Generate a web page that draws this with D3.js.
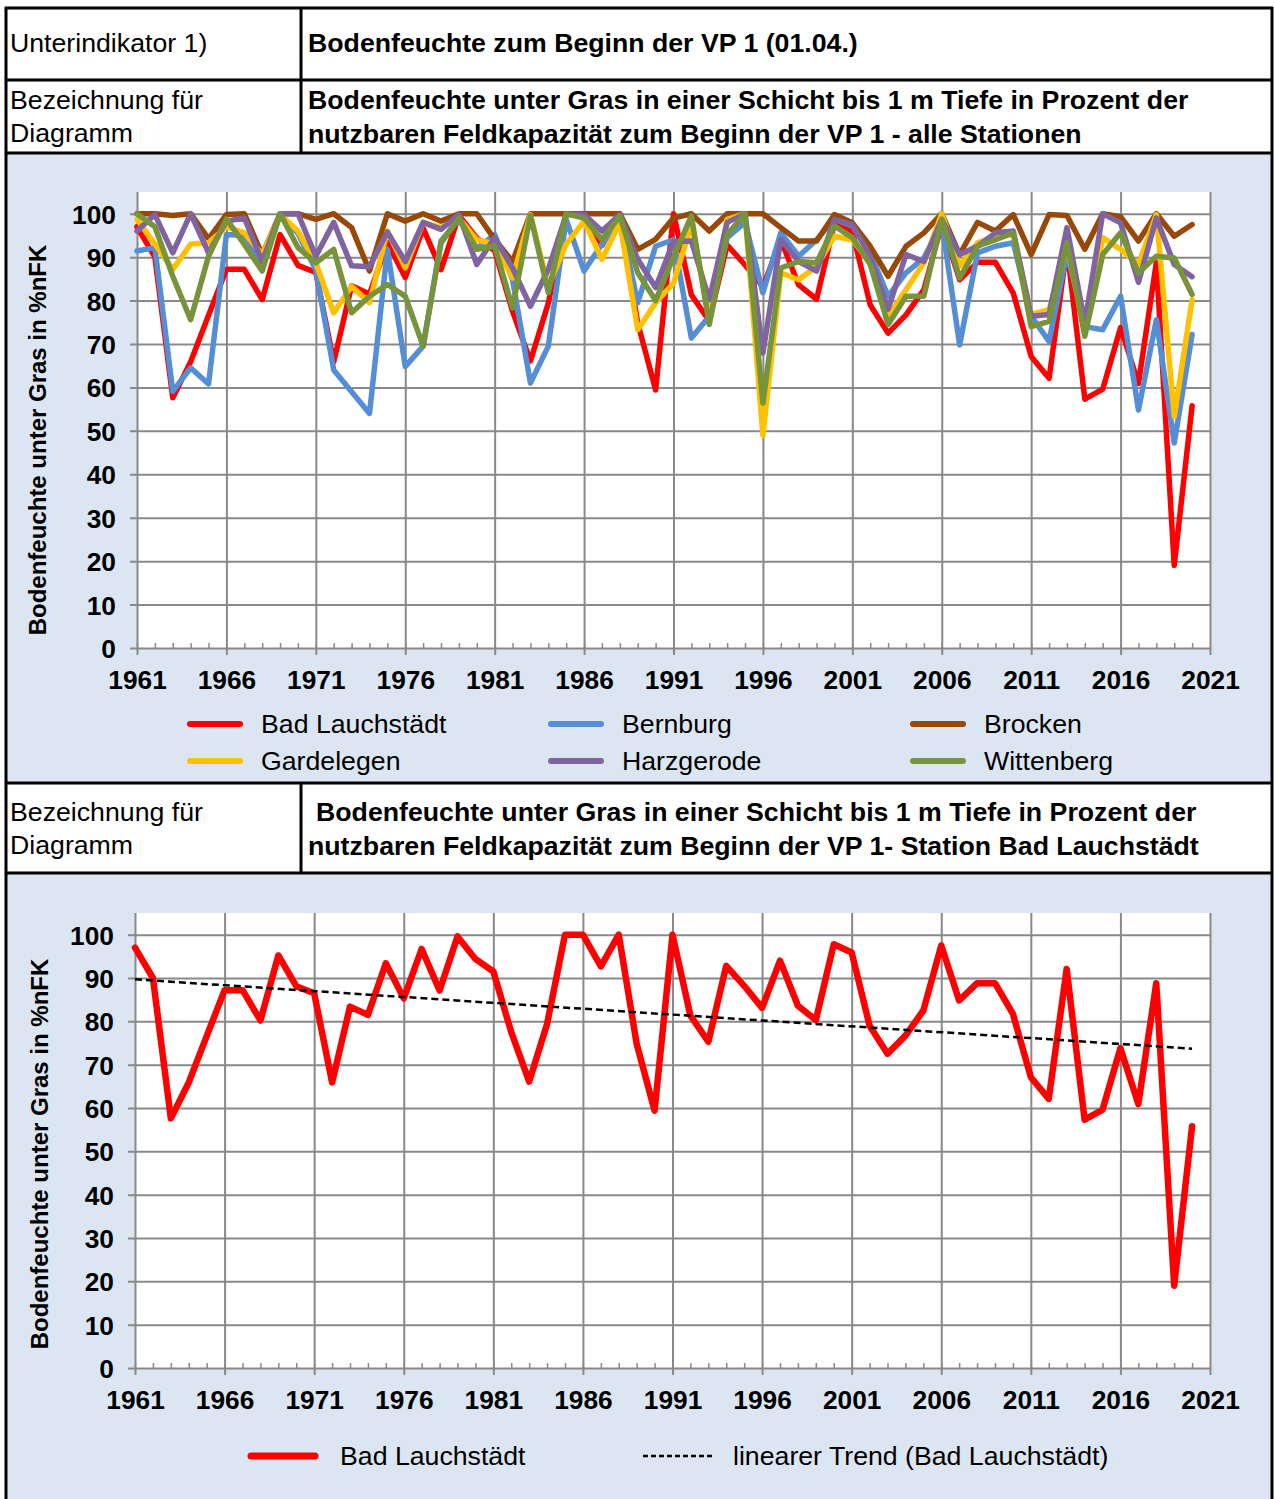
<!DOCTYPE html>
<html><head><meta charset="utf-8">
<script src="https://cdn.jsdelivr.net/npm/d3@7"></script>
<style>
html,body{margin:0;padding:0;background:#fff;}
svg{display:block;font-family:"Liberation Sans",Arial,sans-serif;}
</style></head><body>
<svg id="c" width="1274" height="1499"></svg>
<script>
const years = [1961,1962,1963,1964,1965,1966,1967,1968,1969,1970,
 1971,1972,1973,1974,1975,1976,1977,1978,1979,1980,
 1981,1982,1983,1984,1985,1986,1987,1988,1989,1990,
 1991,1992,1993,1994,1995,1996,1997,1998,1999,2000,
 2001,2002,2003,2004,2005,2006,2007,2008,2009,2010,
 2011,2012,2013,2014,2015,2016,2017,2018,2019,2020];
const badLauchstaedt = [97,90,57.6,65.9,76.6,87.2,87.2,80.2,95.2,88.1,
 86.5,65.9,83.4,81.5,93.4,85.3,96.7,87.1,99.6,94.4,
 91.5,77.5,66.1,79.4,100,100,92.7,100,74.8,59.4,
 100,81.3,75.3,92.8,88.2,83.1,94,83.6,80.3,97.8,
 95.9,79,72.5,76.7,82.5,97.5,84.8,88.8,88.8,81.7,
 67.1,62.1,92.1,57.3,59.6,73.8,60.9,88.8,19,55.8];
const bernburg = [91.4,92.2,59.1,64.5,60.8,95.2,95,87.5,99.8,95.5,
 87,64,59,54,91.8,64.8,69.5,93.7,98.7,92,
 95.2,84.8,61,69.5,98.7,86.8,93,99,79.5,92.5,
 94,71.4,76.4,94.5,98,81.8,95.6,90.2,94,98.7,
 97.2,91,81,86.4,89.8,98,69.8,91,92.5,93.3,
 76.4,70.6,91,74,73.3,81,54.8,75.6,47.2,72.2];
const brocken = [100,100,99.6,100,94.2,99.8,100,90.6,100,100,
 98.7,100,96.8,86.8,100,98.3,100,98.3,100,100,
 94.1,89,100,100,100,100,100,100,91.8,94.1,
 99,100,96,100,100,100,96.8,93.7,93.7,99.8,
 97.9,92.5,85.6,92.5,95.6,100,90.6,98,96,99.8,
 90.6,99.8,99.6,91.8,100,99.3,93.7,100,94.8,97.5];
const gardelegen = [98.7,93,87.2,93,93.3,97,95.6,90.6,99.8,96,
 88.7,77.2,83.3,79.5,96,87.5,98,96.8,99,94,
 93,85.2,99.8,83.3,93,98.3,89.5,98,73.3,79.5,
 84,97.5,77,98.7,100,49,86.4,84.8,87.9,94.8,
 94,88.7,76.4,82.5,88.7,100,87.9,93.3,94.8,95.2,
 76.8,77.9,92.5,73.3,94.5,91.8,88.3,99.8,53.3,80.2];
const harzgerode = [96,99.8,91,100,91,98.3,99,89,100,100,
 90.2,98,88,87.8,95.8,89,98,96.4,99.8,88.3,
 94.5,87.5,78.7,87.2,99.8,99.8,96,99.8,89.5,83,
 93.6,93.7,80.2,98,100,67.9,94,89,86.8,98.7,
 97.5,90.2,78,90.6,89,98.7,90.6,92.5,95.6,96,
 76.4,76.8,96.8,74.8,100,97.9,84.2,99,88.3,85.5];
const wittenberg = [100,97,85.6,75.6,90.2,98.8,92.9,86.8,100,92.2,
 88.7,91.8,77.2,81,83.7,81,69.5,93.3,99,91.8,
 92.5,78.3,99.6,81.8,100,99,94,99.5,86.4,80,
 90,99.5,74.5,95.2,100,56.4,87.5,89,88.7,97.2,
 94.5,88.3,74.5,81,81,98.7,85.2,92.5,94,95.6,
 74,75.2,93.3,71.8,90.6,95.6,86.4,90.2,89.8,81.4];
const seriesNames = ["Bad Lauchstädt","Bernburg","Brocken","Gardelegen","Harzgerode","Wittenberg"];
const seriesValues = [badLauchstaedt,bernburg,brocken,gardelegen,harzgerode,wittenberg];
const seriesColors = ["#ff0000","#558ed5","#984807","#ffc000","#8064a2","#77933c"];
const xTickYears = [1961,1966,1971,1976,1981,1986,1991,1996,2001,2006,2011,2016,2021];
const yTicks = [0,10,20,30,40,50,60,70,80,90,100];
const yTitle = "Bodenfeuchte unter Gras in %nFK";
const trendName = "linearer Trend (Bad Lauchstädt)";

const FONT = 26.7;
const TICKFONT = 26.3;
const GRID = "#898989";
const BG = "#dce6f2";
const svg = d3.select("#c");

svg.append("rect").attr("x",0).attr("y",0).attr("width",1274).attr("height",1499).attr("fill","#fff");
svg.append("rect").attr("x",6).attr("y",153).attr("width",1266).attr("height",630).attr("fill",BG);
svg.append("rect").attr("x",6).attr("y",873).attr("width",1266).attr("height",626).attr("fill",BG);

// table lines
const tl = svg.append("g").attr("stroke","#000").attr("stroke-width",3);
[[5,8,1273,8],[5,80,1273,80],[5,153,1273,153],[5,783,1273,783],[5,873,1273,873],
 [6,7,6,1499],[1272,7,1272,1499],[301,8,301,153],[301,783,301,873]].forEach(d=>{
  tl.append("line").attr("x1",d[0]).attr("y1",d[1]).attr("x2",d[2]).attr("y2",d[3]);
});

function txt(s,x,y,opts={}){
  return svg.append("text").attr("x",x).attr("y",y).attr("font-size",opts.size||FONT)
   .attr("font-weight",opts.bold?"bold":"normal").attr("fill","#000").text(s);
}
txt("Unterindikator 1)",10,52);
txt("Bodenfeuchte zum Beginn der VP 1 (01.04.)",308,52,{bold:true});
txt("Bezeichnung für",10,109);
txt("Diagramm",10,142);
txt("Bodenfeuchte unter Gras in einer Schicht bis 1 m Tiefe in Prozent der",308,109,{bold:true});
txt("nutzbaren Feldkapazität zum Beginn der VP 1 - alle Stationen",308,143,{bold:true});
txt("Bezeichnung für",10,821);
txt("Diagramm",10,854);
txt("Bodenfeuchte unter Gras in einer Schicht bis 1 m Tiefe in Prozent der",316,821,{bold:true});
txt("nutzbaren Feldkapazität zum Beginn der VP 1- Station Bad Lauchstädt",308,855,{bold:true});

function drawChart(o){
  const g = svg.append("g");
  const x = d3.scaleLinear().domain([1961,2021]).range([o.left,o.right]);
  const y = d3.scaleLinear().domain([0,105]).range([o.bottom,o.top]);
  g.append("rect").attr("x",o.left).attr("y",o.top).attr("width",o.right-o.left)
   .attr("height",o.bottom-o.top).attr("fill","#fff");
  const hg = g.append("g").attr("transform",`translate(${o.left-7},0)`)
   .call(d3.axisLeft(y).tickValues(yTicks).tickSize(-(o.right-o.left+7)).tickFormat(""));
  hg.select(".domain").remove();
  hg.selectAll("line").attr("stroke",GRID).attr("stroke-width",2);
  const vg = g.append("g").attr("transform",`translate(0,${o.bottom+7})`)
   .call(d3.axisBottom(x).tickValues(xTickYears).tickSize(-(o.bottom+7-o.top)).tickFormat(""));
  vg.select(".domain").remove();
  vg.selectAll("line").attr("stroke",GRID).attr("stroke-width",2);
  const mg = g.append("g").attr("transform",`translate(0,${o.bottom})`)
   .call(d3.axisBottom(x).tickValues(years).tickSize(-5).tickFormat(""));
  mg.select(".domain").remove();
  mg.selectAll("line").attr("stroke",GRID).attr("stroke-width",1.5);
  // labels
  const xl = g.append("g").attr("transform",`translate(0,${o.bottom})`)
   .call(d3.axisBottom(x).tickValues(xTickYears).tickSize(0).tickPadding(o.xLabelPad).tickFormat(d3.format("d")));
  xl.select(".domain").remove();
  xl.selectAll("text").attr("font-size",TICKFONT).attr("font-weight","bold").attr("fill","#000")
   .attr("font-family","'Liberation Sans',Arial,sans-serif");
  const yl = g.append("g").attr("transform",`translate(${o.left},0)`)
   .call(d3.axisLeft(y).tickValues(yTicks).tickSize(0).tickPadding(o.left-o.yLabelRight));
  yl.select(".domain").remove();
  yl.selectAll("text").attr("font-size",TICKFONT).attr("font-weight","bold").attr("fill","#000")
   .attr("font-family","'Liberation Sans',Arial,sans-serif").attr("dy","0.36em");
  // title
  g.append("text").attr("transform",`translate(${o.titleX},${o.titleY}) rotate(-90)`)
   .attr("text-anchor","middle").attr("dy","0.35em").attr("font-size",24).attr("font-weight","bold")
   .text(yTitle);
  return {g,x,y};
}

// Chart 1
const c1 = drawChart({left:137,right:1210,top:192,bottom:648,xLabelPad:22,yLabelRight:116,titleX:38,titleY:440});
const line1 = d3.line().x((d,i)=>c1.x(years[i])).y(d=>c1.y(d));
seriesValues.forEach((vals,k)=>{
  c1.g.append("path").datum(vals).attr("d",line1).attr("fill","none")
   .attr("stroke",seriesColors[k]).attr("stroke-width",5.5)
   .attr("stroke-linejoin","round").attr("stroke-linecap","round");
});
// legend 1
const legCols=[187,548,910], legRows=[724,761];
seriesNames.forEach((n,k)=>{
  const lx=legCols[k%3], ly=legRows[Math.floor(k/3)];
  svg.append("line").attr("x1",lx+3).attr("x2",lx+53).attr("y1",ly).attr("y2",ly)
   .attr("stroke",seriesColors[k]).attr("stroke-width",6).attr("stroke-linecap","round");
  svg.append("text").attr("x",lx+74).attr("y",ly+9).attr("font-size",FONT).text(n);
});

// Chart 2
const c2 = drawChart({left:135,right:1210,top:913,bottom:1368,xLabelPad:22,yLabelRight:114,titleX:40,titleY:1154});
const line2 = d3.line().x((d,i)=>c2.x(years[i])).y(d=>c2.y(d));
// linear trend by least squares
const n = years.length;
const mx = d3.mean(years), my = d3.mean(badLauchstaedt);
const slope = d3.sum(years,(yr,i)=>(yr-mx)*(badLauchstaedt[i]-my))/d3.sum(years,yr=>(yr-mx)*(yr-mx));
const icpt = my - slope*mx;
const trendVals = [years[0],years[n-1]].map(yr=>({yr,v:icpt+slope*yr}));
c2.g.append("path").datum(badLauchstaedt).attr("d",line2).attr("fill","none")
  .attr("stroke","#ff0000").attr("stroke-width",6.5).attr("stroke-linejoin","round").attr("stroke-linecap","round");
c2.g.append("path").datum(trendVals).attr("d",d3.line().x(d=>c2.x(d.yr)).y(d=>c2.y(d.v)))
  .attr("fill","none").attr("stroke","#000").attr("stroke-width",2.5).attr("stroke-dasharray","7,4");
// legend 2
svg.append("line").attr("x1",251).attr("x2",315).attr("y1",1456).attr("y2",1456)
  .attr("stroke","#ff0000").attr("stroke-width",7).attr("stroke-linecap","round");
svg.append("text").attr("x",340).attr("y",1465).attr("font-size",FONT).text(seriesNames[0]);
svg.append("line").attr("x1",643).attr("x2",713).attr("y1",1456).attr("y2",1456)
  .attr("stroke","#000").attr("stroke-width",2.5).attr("stroke-dasharray","5,3");
svg.append("text").attr("x",733).attr("y",1465).attr("font-size",FONT).text(trendName);
</script>
</body></html>
